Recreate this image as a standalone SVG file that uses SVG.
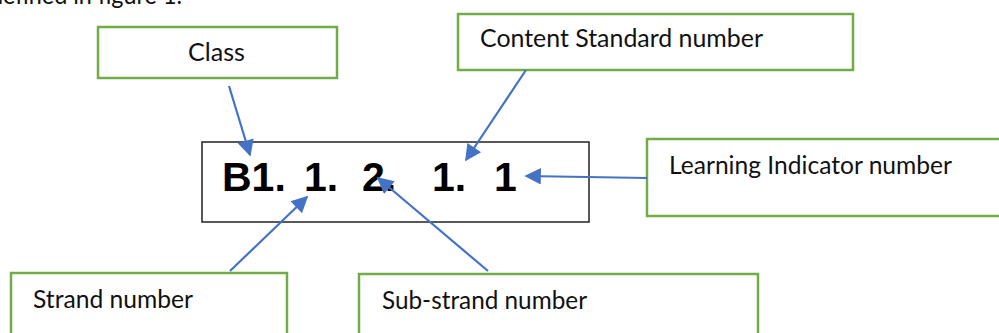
<svg xmlns="http://www.w3.org/2000/svg" width="999" height="333" viewBox="0 0 999 333">
<style>
.box{fill:#fff;stroke:#70AD47;stroke-width:2.5}
.lbl{font-family:Lato,"Open Sans","Liberation Sans",sans-serif;font-size:25px;fill:#111}
.code{font-family:"Liberation Sans",Arial,sans-serif;font-size:41px;font-weight:bold;fill:#000}
.conn{stroke:#4472C4;stroke-width:2.2;fill:none;marker-end:url(#ah)}
</style>
<defs>
<marker id="ah" viewBox="0 0 10 10" refX="9" refY="5" markerWidth="8.5" markerHeight="7.5" markerUnits="strokeWidth" orient="auto">
<path d="M0,0 L10,5 L0,10 Z" fill="#4472C4"/>
</marker>
</defs>
<rect width="999" height="333" fill="#fff"/>
<text class="lbl" x="-10" y="4" textLength="192" lengthAdjust="spacingAndGlyphs">defined in figure 1.</text>
<g id="code-box">
<rect x="202" y="142" width="387" height="80" fill="#fff" stroke="#222" stroke-width="1.5"/>
<text class="code" y="191"><tspan x="222">B1.</tspan><tspan x="304">1.</tspan><tspan x="362">2.</tspan><tspan x="432">1.</tspan><tspan x="494">1</tspan></text>
</g>
<g id="class">
<rect class="box" x="98" y="27" width="239" height="51"/>
<text class="lbl" x="188" y="61" textLength="57" lengthAdjust="spacingAndGlyphs">Class</text>
</g>
<g id="content-standard">
<rect class="box" x="458" y="14" width="395" height="56"/>
<text class="lbl" x="480" y="47" textLength="283" lengthAdjust="spacingAndGlyphs">Content Standard number</text>
</g>
<g id="learning-indicator">
<rect class="box" x="647" y="139" width="370" height="77"/>
<text class="lbl" x="669" y="174" textLength="283" lengthAdjust="spacingAndGlyphs">Learning Indicator number</text>
</g>
<g id="strand">
<rect class="box" x="11" y="273" width="276" height="70"/>
<text class="lbl" x="33" y="308" textLength="160" lengthAdjust="spacingAndGlyphs">Strand number</text>
</g>
<g id="sub-strand">
<rect class="box" x="359" y="274" width="399" height="70"/>
<text class="lbl" x="382" y="309" textLength="205" lengthAdjust="spacingAndGlyphs">Sub-strand number</text>
</g>
<g id="connectors">
<line class="conn" x1="229" y1="86" x2="250" y2="155"/>
<line class="conn" x1="526" y1="70" x2="466" y2="160"/>
<line class="conn" x1="647" y1="178" x2="526" y2="176"/>
<line class="conn" x1="230" y1="271" x2="307" y2="197"/>
<line class="conn" x1="488" y1="271" x2="378" y2="178"/>
</g>
</svg>
